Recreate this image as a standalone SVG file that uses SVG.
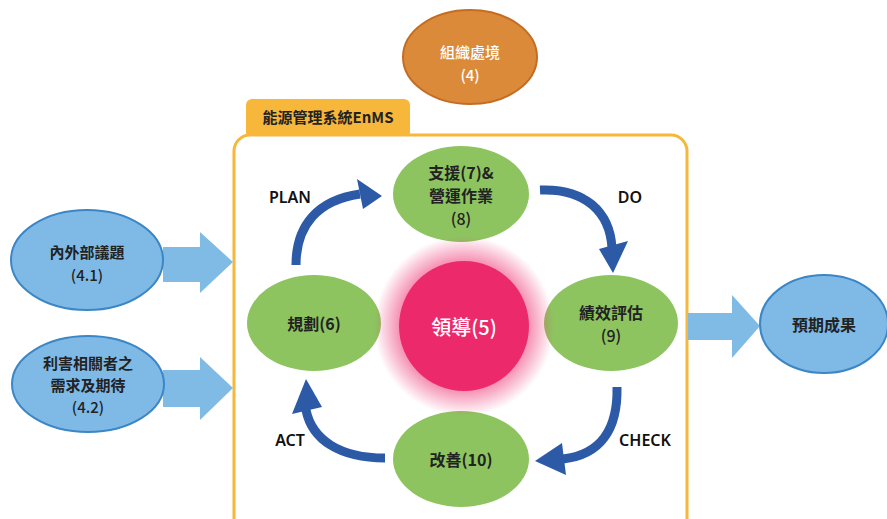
<svg xmlns="http://www.w3.org/2000/svg" width="887" height="519" viewBox="0 0 887 519">
<defs>
<style>
.t{font-family:"Noto Sans CJK TC","Noto Sans",sans-serif;font-size:16px;font-weight:700;fill:#222;text-anchor:middle;dominant-baseline:central}
.s{font-size:15px}
.lbl{font-family:"Noto Sans","Liberation Sans",sans-serif;font-size:16px;font-weight:600;fill:#111;text-anchor:middle;dominant-baseline:central}
.green{fill:#8DC460}
.blue{fill:#7FBAE6;stroke:#3B86C6;stroke-width:2}
.barrow{fill:#80BBE6}
.cyc{fill:none;stroke:#2C5AA6;stroke-width:9}
.head{fill:#2C5AA6}
</style>
<radialGradient id="glow" cx="0.5" cy="0.5" r="0.5">
<stop offset="0.7" stop-color="#EC2A6B" stop-opacity="0.55"/>
<stop offset="1" stop-color="#EC2A6B" stop-opacity="0"/>
</radialGradient>
</defs>
<rect width="887" height="519" fill="#fff"/>

<g id="frame">
<rect x="246" y="99" width="164" height="40" rx="6" fill="#F6B73A"/>
<rect x="234" y="135" width="453" height="400" rx="16" fill="#fff" stroke="#F6B73A" stroke-width="3"/>
<text x="328" y="116" class="t" style="font-size:15px">能源管理系統EnMS</text>
</g>

<g id="context">
<ellipse cx="470" cy="57" rx="67" ry="47" fill="#DB8A3A" stroke="#C46D22" stroke-width="2"/>
<text x="470" y="51" class="t s" style="fill:#fff;font-weight:500">組織處境</text>
<text x="470" y="74" class="t s" style="fill:#fff;font-weight:500">(4)</text>
</g>

<g id="connectors">
<polygon class="barrow" points="163,247 200,247 200,232 233,262 200,293 200,282 163,282"/>
<polygon class="barrow" points="163,370 200,370 200,357 233,388 200,420 200,407 163,407"/>
<polygon class="barrow" points="688,313 732,313 732,295 760,326 732,358 732,340 688,340"/>
<path class="cyc" d="M296,265 C296,225 318,200 360,194"/>
<polygon class="head" points="382,196 357,179 363,209"/>
<path class="cyc" d="M540,190 C585,188 610,212 612,248"/>
<polygon class="head" points="613,273 599,249 628,241"/>
<path class="cyc" d="M617,387 C618,430 600,455 563,459"/>
<polygon class="head" points="535,461 562,443 566,475"/>
<path class="cyc" d="M385,458 C340,458 312,440 306,410"/>
<polygon class="head" points="306,379 292,414 322,407"/>
<text x="290" y="197" class="lbl">PLAN</text>
<text x="630" y="197" class="lbl">DO</text>
<text x="645" y="440" class="lbl">CHECK</text>
<text x="290" y="440" class="lbl">ACT</text>
</g>

<g id="issues">
<ellipse cx="87" cy="260" rx="76" ry="50" class="blue"/>
<text x="87" y="251" class="t s">內外部議題</text>
<text x="87" y="274" class="t s" style="font-weight:500">(4.1)</text>
</g>

<g id="stakeholders">
<ellipse cx="88" cy="384" rx="76" ry="48" class="blue"/>
<text x="88" y="362" class="t s">利害相關者之</text>
<text x="88" y="384" class="t s">需求及期待</text>
<text x="88" y="406" class="t s" style="font-weight:500">(4.2)</text>
</g>

<g id="outcome">
<ellipse cx="824" cy="324" rx="64" ry="49" class="blue"/>
<text x="824" y="324" class="t">預期成果</text>
</g>

<g id="support">
<ellipse cx="461" cy="194" rx="68" ry="48" class="green"/>
<text x="461" y="172" class="t">支援(7)&amp;</text>
<text x="461" y="195" class="t">營運作業</text>
<text x="461" y="218" class="t" style="font-weight:500">(8)</text>
</g>

<g id="plan">
<ellipse cx="314" cy="323" rx="67" ry="48" class="green"/>
<text x="314" y="323" class="t">規劃(6)</text>
</g>

<g id="perf">
<ellipse cx="611" cy="323" rx="67" ry="48" class="green"/>
<text x="611" y="312" class="t">績效評估</text>
<text x="611" y="335" class="t" style="font-weight:500">(9)</text>
</g>

<g id="improve">
<ellipse cx="461" cy="459" rx="68" ry="48" class="green"/>
<text x="461" y="459" class="t">改善(10)</text>
</g>

<g id="leadership">
<circle cx="464" cy="326" r="90" fill="url(#glow)"/>
<circle cx="464" cy="326" r="65" fill="#EC2A6B"/>
<text x="464" y="326" class="t" style="fill:#fff;font-size:20px;font-weight:500">領導(5)</text>
</g>
</svg>
